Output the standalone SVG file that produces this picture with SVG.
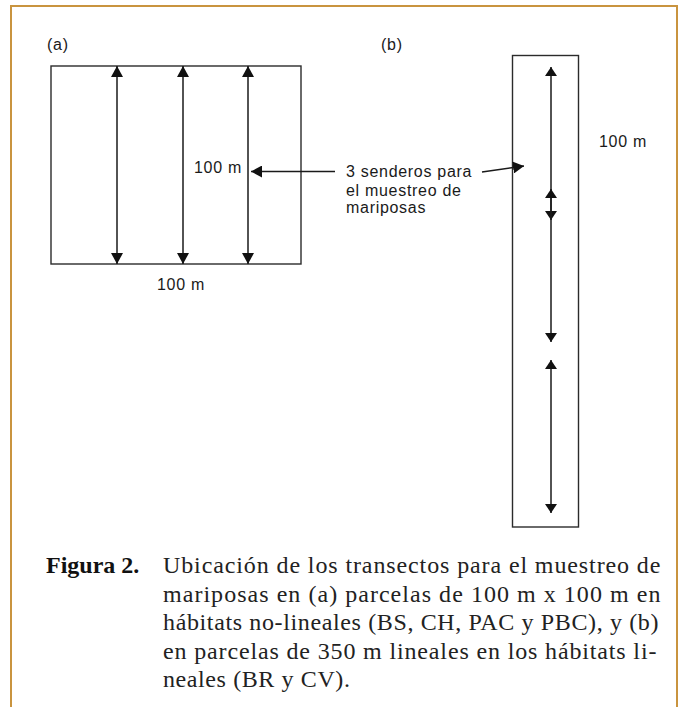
<svg xmlns="http://www.w3.org/2000/svg" width="689" height="707" viewBox="0 0 689 707">
<style>
.frame{fill:none;stroke:#C9943F;stroke-width:2}
.box{fill:none;stroke:#2b2b2b;stroke-width:1.4}
.ln{fill:none;stroke:#1a1a1a;stroke-width:1.5}
.sans{font-family:"Liberation Sans",Arial,Helvetica,sans-serif;font-size:16px;fill:#1a1a1a;letter-spacing:0.7px}
.cap{font-family:"Liberation Serif","Times New Roman",serif;font-size:24px;fill:#222;letter-spacing:0.6px}
.capb{font-family:"Liberation Serif","Times New Roman",serif;font-size:24px;font-weight:bold;fill:#111}
</style>
<defs>
<marker id="ah" viewBox="0 0 11 12" refX="11" refY="6" markerWidth="11" markerHeight="12" markerUnits="userSpaceOnUse" orient="auto-start-reverse">
<path d="M0,0 L11,6 L0,12 z" fill="#111"/>
</marker>
<marker id="ahs" viewBox="0 0 9 12" refX="9" refY="6" markerWidth="9" markerHeight="12" markerUnits="userSpaceOnUse" orient="auto-start-reverse">
<path d="M0,0 L9,6 L0,12 z" fill="#111"/>
</marker>
</defs>
<rect width="689" height="707" fill="#fff"/>
<path class="frame" d="M11,707 V6 H677 V707"/>

<g id="panel-a">
<text class="sans" x="47" y="50">(a)</text>
<rect id="plot-a" class="box" x="51" y="66" width="250" height="198"/>
<text class="sans" x="194" y="172.5">100 m</text>
<text class="sans" x="157" y="290">100 m</text>
</g>

<g id="panel-b">
<text class="sans" x="381" y="50">(b)</text>
<rect id="plot-b" class="box" x="512.5" y="55.5" width="66" height="471.5"/>
<text class="sans" x="599" y="146.5">100 m</text>
</g>

<g id="label">
<text class="sans" x="346" y="177">3 senderos para</text>
<text class="sans" x="346" y="195.5">el muestreo de</text>
<text class="sans" x="346" y="213">mariposas</text>
</g>

<g id="connectors">
<line class="ln" x1="117" y1="264" x2="117" y2="66" marker-start="url(#ah)" marker-end="url(#ah)"/>
<line class="ln" x1="183" y1="264" x2="183" y2="66" marker-start="url(#ah)" marker-end="url(#ah)"/>
<line class="ln" x1="248" y1="264" x2="248" y2="66" marker-start="url(#ah)" marker-end="url(#ah)"/>
<line class="ln" x1="551" y1="220" x2="551" y2="67" marker-start="url(#ahs)" marker-end="url(#ahs)"/>
<line class="ln" x1="551" y1="342" x2="551" y2="189" marker-start="url(#ahs)" marker-end="url(#ahs)"/>
<line class="ln" x1="551" y1="513" x2="551" y2="360" marker-start="url(#ahs)" marker-end="url(#ahs)"/>
<line class="ln" x1="335" y1="171.5" x2="251" y2="171.5" marker-end="url(#ah)"/>
<line class="ln" x1="482" y1="172" x2="524" y2="166" marker-end="url(#ah)"/>
</g>

<g id="caption">
<text class="capb" x="46" y="573">Figura 2.</text>
<text class="cap" x="163" y="573" textLength="498" lengthAdjust="spacing">Ubicación de los transectos para el muestreo de</text>
<text class="cap" x="163" y="601.5" textLength="498" lengthAdjust="spacing">mariposas en (a) parcelas de 100 m x 100 m en</text>
<text class="cap" x="163" y="630" textLength="496" lengthAdjust="spacing">hábitats no-lineales (BS, CH, PAC y PBC), y (b)</text>
<text class="cap" x="163" y="658.5" textLength="494" lengthAdjust="spacing">en parcelas de 350 m lineales en los hábitats li-</text>
<text class="cap" x="163" y="687">neales (BR y CV).</text>
</g>
</svg>
